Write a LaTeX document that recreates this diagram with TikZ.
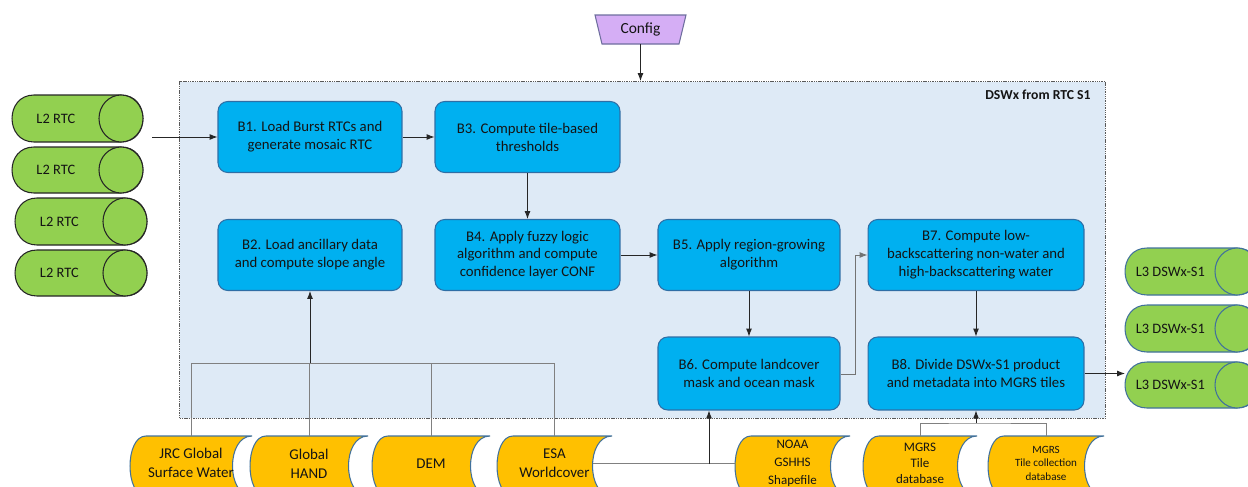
\documentclass[tikz,border=0pt]{standalone}
\usepackage{fontspec}
\setmainfont{Carlito}
\usetikzlibrary{arrows.meta}

\definecolor{procblue}{HTML}{00B0F0}
\definecolor{procedge}{HTML}{2F6EA5}
\definecolor{framefill}{HTML}{DEEAF6}
\definecolor{rtcgreen}{HTML}{92D050}
\definecolor{storeyellow}{HTML}{FFC000}
\definecolor{storeedge}{HTML}{41719C}
\definecolor{cfgfill}{HTML}{D5AEF5}
\definecolor{cfgedge}{HTML}{6E6E9E}
\definecolor{inktext}{HTML}{141414}

% horizontal cylinder: name, left, right, top, bottom, text, style
\newcommand\hcyl[7]{%
  \path[#7] ({#2+22},#4) .. controls ({#2-7.3},#4) and ({#2-7.3},#5) .. ({#2+22},#5)
    -- ({#3-22},#5) .. controls ({#3+7.3},#5) and ({#3+7.3},#4) .. ({#3-22},#4) -- cycle;
  \path[#7] ({#3-22},{(#4+#5)/2}) ellipse [x radius=22, y radius={(#5-#4)/2}];
  \node[cyltext, minimum width={(#3-#2-44)*0.02cm}, minimum height={(#5-#4)*0.02cm},
        anchor=west] (#1) at (#2,{(#4+#5)/2}) {#6};%
}

% stored-data shape: name, left, right, font, text
\newcommand\store[5]{%
  \path[storeshape] ({#2+16},436) -- (#3,436) .. controls ({#3-26},436) and ({#3-26},496) .. (#3,496)
    -- ({#2+16},496) .. controls ({#2-5.3},496) and ({#2-5.3},436) .. ({#2+16},436) -- cycle;
  \node[storetext, font=#4, minimum width={(#3-#2)*0.02cm}, minimum height=1.08cm,
        anchor=north] (#1) at ({(#2+#3)/2},436) {#5};%
}

\begin{document}
\begin{tikzpicture}[x=0.02cm, y=-0.02cm,
  proc/.style={rectangle, rounded corners=5.5pt, fill=procblue, draw=procedge,
    line width=0.6pt, align=center, inner sep=0pt, text=inktext,
    font=\fontsize{8.4}{10.2}\selectfont, minimum height=1.42cm},
  frame/.style={rectangle, fill=framefill, draw=black!65, line width=0.6pt,
    dash pattern=on 0.8pt off 0.5pt, inner sep=0pt},
  rtc/.style={fill=rtcgreen, draw=black!85, line width=0.6pt},
  dswx/.style={fill=rtcgreen, draw=storeedge, line width=0.6pt},
  cyltext/.style={inner sep=0pt, text=inktext, font=\fontsize{8.2}{10}\selectfont},
  storeshape/.style={fill=storeyellow, draw=storeedge, line width=0.6pt},
  storetext/.style={inner sep=0pt, align=center, text=inktext},
  arr/.style={-{Latex[length=4.5pt,width=3.4pt]}, line width=0.5pt, draw=black!85},
  anc/.style={line width=0.5pt, draw=black!50},
]
\useasboundingbox (0,0) rectangle (1248,487);
\clip (0,0) rectangle (1248,487);

% processing frame
\node[frame, anchor=north west, minimum width=18.52cm, minimum height=6.74cm] (frame) at (179,81) {};
\node[anchor=north east, inner sep=0pt, text=inktext, font=\bfseries\fontsize{7.8}{9}\selectfont]
  (title) at (1091,90) {DSWx from RTC S1};

% config input
\path[fill=cfgfill, draw=cfgedge, line width=0.6pt] (595,15) -- (686,15) -- (679,44) -- (602,44) -- cycle;
\node[inner sep=0pt, minimum width=1.6cm, minimum height=0.58cm, text=inktext,
      font=\fontsize{8.8}{10}\selectfont] (cfg) at (640.5,29.5) {Config};

% processing steps
\node[proc, minimum width=3.68cm] (B1) at (310,137) {B1. Load Burst RTCs and\\generate mosaic RTC};
\node[proc, minimum width=3.70cm] (B3) at (527.5,137) {B3. Compute tile-based\\thresholds};
\node[proc, minimum width=3.68cm] (B2) at (310,255) {B2. Load ancillary data\\and compute slope angle};
\node[proc, minimum width=3.70cm] (B4) at (527.5,255) {B4. Apply fuzzy logic\\algorithm and compute\\confidence layer CONF};
\node[proc, minimum width=3.64cm] (B5) at (749,255) {B5. Apply region-growing\\algorithm};
\node[proc, minimum width=4.32cm] (B7) at (976,255) {B7. Compute low-\\backscattering non-water and\\high-backscattering water};
\node[proc, minimum width=3.64cm, minimum height=1.46cm] (B6) at (749,373.5) {B6. Compute landcover\\mask and ocean mask};
\node[proc, minimum width=4.32cm, minimum height=1.46cm] (B8) at (976,373.5) {B8. Divide DSWx-S1 product\\and metadata into MGRS tiles};

% input RTC bursts
\hcyl{rtcA}{12}{143}{95}{142}{L2 RTC}{rtc}
\hcyl{rtcB}{12}{143}{147}{193}{L2 RTC}{rtc}
\hcyl{rtcC}{15}{147}{198}{245}{L2 RTC}{rtc}
\hcyl{rtcD}{15}{147}{250}{296}{L2 RTC}{rtc}

% output products
\hcyl{outA}{1125}{1259}{248}{295}{L3 DSWx-S1}{dswx}
\hcyl{outB}{1125}{1259}{305}{352}{L3 DSWx-S1}{dswx}
\hcyl{outC}{1125}{1259}{362}{408}{L3 DSWx-S1}{dswx}

% ancillary data stores
\store{JRC}{130}{252}{\fontsize{8.5}{10.8}\selectfont}{JRC Global\\Surface Water}
\store{HAND}{250}{368}{\fontsize{8.5}{10.8}\selectfont}{Global\\HAND}
\store{DEM}{372}{490}{\fontsize{8.5}{10.8}\selectfont}{DEM}
\store{ESA}{497}{612}{\fontsize{8.5}{10.8}\selectfont}{ESA\\Worldcover}
\store{NOAA}{735}{850}{\fontsize{7.4}{10.4}\selectfont}{NOAA\\GSHHS\\Shapefile}
\store{MGRSA}{863}{977}{\fontsize{7.4}{9.2}\selectfont}{MGRS\\Tile\\database}
\store{MGRSB}{988}{1104}{\fontsize{6.3}{7.5}\selectfont}{MGRS\\Tile collection\\database}

% main data flow
\coordinate (rtcin) at (152,137);
\draw[arr] (rtcin) -- (B1.west);
\draw[arr] (cfg.south) -- (cfg.south |- frame.north);
\draw[arr] (B1) -- (B3);
\draw[arr] (B3) -- (B4);
\draw[arr] (B4) -- (B5);
\draw[arr] (B5) -- (B6);
\draw[arr, draw=black!55] ([yshift=-0.6pt]B6.east) -- ++(15,0) |- (B7.west);
\draw[arr] (B7) -- (B8);
\draw[arr] (B8.east) -- (B8.east -| outC.west);

% ancillary inputs to B2
\coordinate (hub) at (310,363);
\draw[anc] (JRC.north) |- (hub);
\draw[anc] (ESA.north) |- (hub);
\draw[anc] (DEM.north) |- (hub);
\draw[anc] (HAND.north) -- (HAND.north |- hub);
\draw[arr] (hub) -- (hub |- B2.south);

% coastline and landcover inputs to B6
\coordinate (b6in) at (709,464);
\draw[anc] ([xshift=-0.39cm]ESA.east) -- (NOAA.west);
\draw[arr] (b6in) -- (b6in |- B6.south);

% tile databases to B8
\coordinate (mg) at (976,423);
\draw[anc] (MGRSA.north) |- (mg) -| (MGRSB.north);
\draw[arr] (mg) -- (B8.south);
\end{tikzpicture}
\end{document}
